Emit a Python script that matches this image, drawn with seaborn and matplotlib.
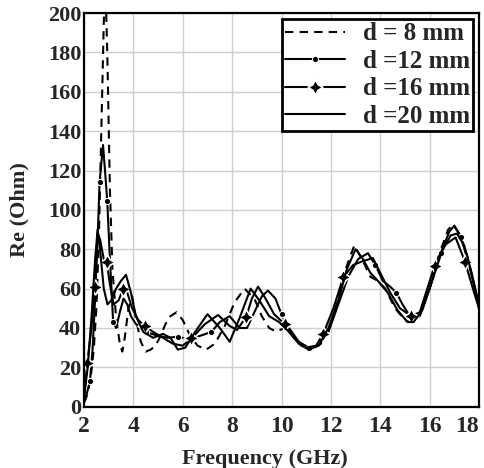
import numpy as np
import pandas as pd
import matplotlib
matplotlib.use('Agg')
import matplotlib.pyplot as plt
import seaborn as sns

# ==================== data ====================
f_8 = [2.0, 2.1, 2.2, 2.3, 2.4, 2.5, 2.6, 2.7, 2.8, 2.87, 2.95, 3.05, 3.15, 3.3, 3.45,
       3.55, 3.65, 3.8, 3.95, 4.1, 4.3, 4.5, 4.7, 4.9, 5.1, 5.3, 5.5, 5.75, 6.0, 6.3,
       6.6, 6.95, 7.3, 7.7, 8.1, 8.5, 8.9, 9.2, 9.5, 9.8, 10.1, 10.4, 10.8, 11.2, 11.6,
       12.0, 12.3, 12.6, 12.95, 13.3, 13.6, 13.9, 14.2, 14.6, 15.0, 15.25, 15.6, 16.0,
       16.4, 16.75, 16.95, 17.2, 17.5, 17.8, 18.0]
re_8 = [2, 5, 10, 18, 30, 50, 85, 140, 195, 215, 175, 110, 70, 45, 32,
        28, 35, 50, 56, 45, 33, 28, 29, 31, 36, 42, 46, 48, 44, 36,
        31, 29, 32, 41, 53, 60, 55, 46, 40, 38, 40, 37, 31, 29.5, 32,
        42, 55, 70, 82, 74, 66, 64, 60, 50, 44, 43, 47, 60,
        78, 90, 92.5, 88, 78, 62, 50]

f_12 = [2.0, 2.1, 2.24, 2.35, 2.45, 2.55, 2.63, 2.77, 2.85, 2.94, 3.05, 3.18, 3.3, 3.45,
        3.6, 3.75, 3.9, 4.1, 4.5, 5.0, 5.4, 5.81, 6.3, 6.7, 7.16, 7.5, 7.9, 8.3, 8.6,
        8.9, 9.2, 9.45, 9.75, 10.0, 10.3, 10.7, 11.1, 11.5, 11.9, 12.3, 12.7, 13.1, 13.5,
        13.8, 14.1, 14.4, 14.65, 14.9, 15.3, 15.6, 16.0, 16.45, 16.8, 17.0, 17.26, 17.6,
        17.9, 18.0]
re_12 = [3, 6, 13, 30, 55, 85, 114, 133, 120, 104.6, 75, 43, 40, 48,
         55, 52, 46, 42, 38, 36, 35, 35.6, 34, 36, 38, 43, 46, 40, 40,
         48, 56, 59, 55, 47, 40, 33, 30, 31, 38, 52, 66, 75, 78,
         72, 64, 61, 58, 52, 44, 46, 60, 78, 89, 92, 86.4, 72,
         56, 50]
mark_12 = [2, 6, 9, 11, 18, 21, 24, 33, 36, 43, 46, 51, 54]

f_16 = [2.0, 2.13, 2.3, 2.44, 2.55, 2.65, 2.8, 2.92, 3.05, 3.2, 3.4, 3.59, 3.75, 3.95,
        4.2, 4.46, 4.8, 5.2, 5.6, 6.0, 6.35, 6.9, 7.43, 7.9, 8.2, 8.57, 8.8, 9.05, 9.35,
        9.7, 10.13, 10.5, 11.0, 11.4, 11.69, 12.1, 12.5, 12.9, 13.3, 13.7, 14.0, 14.4,
        14.8, 15.25, 15.6, 16.2, 16.6, 17.05, 17.43, 17.8, 18.0]
re_16 = [4, 22, 40, 60.8, 88, 85, 75, 73.5, 62, 52, 54, 60, 58, 50,
         44, 41, 38, 35, 32, 31, 34.7, 42, 46.6, 41, 39, 45.7, 55, 61, 55,
         47, 42, 35, 30, 31, 37, 50, 65.7, 72, 74, 75.5, 68, 58,
         50, 46, 48, 71.6, 82, 86, 73.7, 58, 50]
mark_16 = [1, 3, 7, 11, 15, 20, 25, 30, 34, 36, 43, 45, 48]

f_20 = [2.0, 2.15, 2.3, 2.45, 2.55, 2.65, 2.8, 2.95, 3.1, 3.3, 3.5, 3.7, 3.9, 4.1,
        4.4, 4.8, 5.2, 5.5, 5.8, 6.1, 6.5, 7.0, 7.5, 7.9, 8.3, 8.75, 9.1, 9.5, 9.9,
        10.3, 10.7, 11.1, 11.5, 11.9, 12.3, 12.65, 13.0, 13.3, 13.6, 13.9, 14.3, 14.7,
        15.1, 15.35, 15.7, 16.1, 16.5, 16.85, 17.1, 17.4, 17.7, 18.0]
re_20 = [5, 20, 45, 75, 90, 80, 60, 52, 54, 60, 64, 67, 58, 46,
         38, 35, 37, 35, 29, 30, 38, 47, 40, 33, 45, 60, 54, 46, 43,
         38, 32, 29, 31, 40, 54, 70, 80, 75, 68, 64, 58, 49,
         43, 43, 49, 64, 79, 87, 88, 82, 68, 52]

labels = ['d = 8 mm', 'd =12 mm', 'd =16 mm', 'd =20 mm']

# ==================== plot ====================
sns.set_style('white')
plt.rcParams['font.family'] = ['Liberation Serif', 'DejaVu Serif']
plt.rcParams['font.weight'] = 'bold'

fig = plt.figure(figsize=(4.84, 4.68), dpi=100)
ax = fig.add_axes([0.1736, 0.131, 0.8161, 0.841])

df8 = pd.DataFrame({'f': f_8, 're': re_8})
df12 = pd.DataFrame({'f': f_12, 're': re_12})
df16 = pd.DataFrame({'f': f_16, 're': re_16})
df20 = pd.DataFrame({'f': f_20, 're': re_20})

sns.lineplot(data=df8, x='f', y='re', ax=ax, color='black', lw=1.5,
             dashes=False, label=labels[0])
ax.lines[-1].set_dashes((4, 3))
sns.lineplot(data=df12, x='f', y='re', ax=ax, color='black', lw=1.5,
             marker='o', markersize=4.5, markevery=mark_12, label=labels[1])
sns.lineplot(data=df16, x='f', y='re', ax=ax, color='black', lw=1.5,
             marker=(4, 1, 0), markersize=11, markevery=mark_16,
             markeredgewidth=1.2, label=labels[2])
sns.lineplot(data=df20, x='f', y='re', ax=ax, color='black', lw=1.5,
             label=labels[3])

ax.set_xlim(2, 18)
ax.set_ylim(0, 200)
ax.set_xticks(np.arange(2, 19, 2))
ax.set_yticks(np.arange(0, 201, 20))
ax.grid(True, color='#cfcfcf', lw=1)
ax.tick_params(direction='in', length=3, color='#aaaaaa')
ax.tick_params(axis='x', labelsize=17, pad=7)
ax.tick_params(axis='y', labelsize=16, pad=2)
ax.get_xticklabels()[-1].set_horizontalalignment('right')
for s in ax.spines.values():
    s.set_color('black')
    s.set_linewidth(1.6)

ax.set_xlabel('Frequency (GHz)', fontsize=16, fontweight='bold')
ax.set_ylabel('Re (Ohm)', fontsize=16, fontweight='bold')
ax.xaxis.set_label_coords(0.458, -0.108)
ax.yaxis.set_label_coords(-0.137, 0.5)

leg = ax.legend(loc='upper right', fontsize=18, frameon=True, fancybox=False,
                handlelength=2.4, borderpad=0.12, labelspacing=0.18,
                borderaxespad=0.25, handletextpad=0.7)
leg.get_frame().set_edgecolor('black')
leg.get_frame().set_linewidth(2)
leg.get_frame().set_alpha(1)

fig.savefig('out.png', dpi=100)
